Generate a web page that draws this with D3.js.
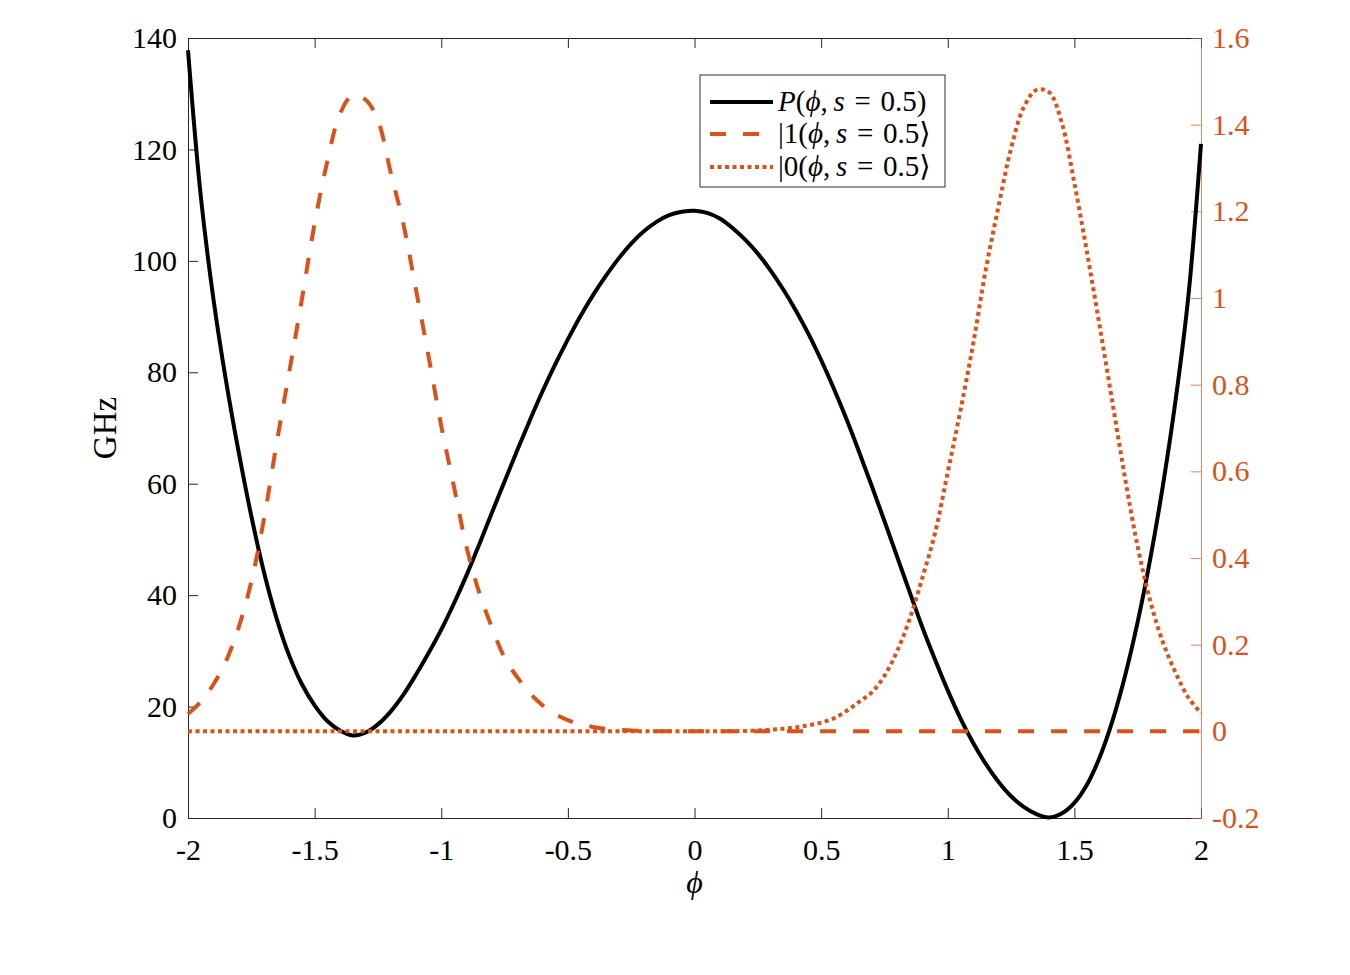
<!DOCTYPE html>
<html>
<head>
<meta charset="utf-8">
<script src="https://cdnjs.cloudflare.com/ajax/libs/d3/7.8.5/d3.min.js"></script>
<style>
  body { margin: 0; background: #fff; }
  svg text { font-family: "Liberation Serif", "DejaVu Serif", serif; }
</style>
</head>
<body>
<svg class="plot" width="1350" height="975"></svg>
<script>
// phi grid, step 0.05
var phiVals = [-2.00,-1.95,-1.90,-1.85,-1.80,-1.75,-1.70,-1.65,-1.60,-1.55,
  -1.50,-1.45,-1.40,-1.35,-1.30,-1.25,-1.20,-1.15,-1.10,-1.05,
  -1.00,-0.95,-0.90,-0.85,-0.80,-0.75,-0.70,-0.65,-0.60,-0.55,
  -0.50,-0.45,-0.40,-0.35,-0.30,-0.25,-0.20,-0.15,-0.10,-0.05,
  0.00,0.05,0.10,0.15,0.20,0.25,0.30,0.35,0.40,0.45,
  0.50,0.55,0.60,0.65,0.70,0.75,0.80,0.85,0.90,0.95,
  1.00,1.05,1.10,1.15,1.20,1.25,1.30,1.35,1.40,1.45,
  1.50,1.55,1.60,1.65,1.70,1.75,1.80,1.85,1.90,1.95,2.00];

// P(phi, s=0.5) in GHz (left axis)
var potVals = [137.8,111.8,93.3,78.5,65.7,54.2,44.1,35.8,29.1,24.0,
  20.2,17.4,15.7,14.8,15.3,16.8,19.1,22.1,25.7,29.6,
  33.8,38.5,43.6,49.1,54.8,60.4,66.0,71.4,76.6,81.4,
  85.9,90.1,93.9,97.3,100.4,103.1,105.3,107.0,108.2,108.8,
  109.0,108.6,107.6,105.9,103.8,101.3,98.3,94.9,91.1,86.9,
  82.2,77.1,71.6,65.7,59.6,53.3,46.9,40.5,34.2,28.4,
  22.9,17.9,13.5,9.7,6.5,3.9,2.0,0.7,0.1,0.8,
  2.7,6.0,10.9,17.4,25.5,35.2,46.6,59.8,75.1,93.6,121.0];

// |1(phi, s=0.5)> (right axis)
var ket1Vals = [0.040,0.068,0.108,0.162,0.240,0.345,0.490,0.665,0.830,0.998,
  1.172,1.315,1.425,1.468,1.458,1.410,1.290,1.172,1.020,0.865,
  0.705,0.565,0.425,0.320,0.240,0.170,0.125,0.088,0.060,0.040,
  0.026,0.016,0.010,0.006,0.004,0.002,0.001,0,0,0,
  0,0,0,0,0,0,0,0,0,0,
  0,0,0,0,0,0,0,0,0,0,
  0,0,0,0,0,0,0,0,0,0,
  0,0,0,0,0,0,0,0,0,0,0];

// |0(phi, s=0.5)> (right axis)
var ket0Vals = [0,0,0,0,0,0,0,0,0,0,
  0,0,0,0,0,0,0,0,0,0,
  0,0,0,0,0,0,0,0,0,0,
  0,0,0,0,0,0,0,0,0,0,
  0,0,0,0,0.001,0.002,0.004,0.006,0.009,0.014,
  0.020,0.030,0.047,0.068,0.090,0.128,0.185,0.260,0.355,0.458,
  0.598,0.740,0.893,1.065,1.210,1.345,1.440,1.480,1.475,1.405,
  1.265,1.105,0.935,0.760,0.585,0.426,0.300,0.205,0.135,0.078,0.042];

var xTicks = [-2,-1.5,-1,-0.5,0,0.5,1,1.5,2];
var yLeftTicks = [0,20,40,60,80,100,120,140];
var yRightTicks = [-0.2,0,0.2,0.4,0.6,0.8,1,1.2,1.4,1.6];

var orange = "#D95319";
var axisCol = "#262626";

var margin = {top: 38, right: 149, bottom: 157, left: 188},
    width = 1350 - margin.left - margin.right,
    height = 975 - margin.top - margin.bottom;

var svg = d3.select(".plot");
var g = svg.append("g")
    .attr("transform", "translate(" + margin.left + "," + margin.top + ")");

var x = d3.scaleLinear().domain([-2, 2]).range([0, width]);
var yL = d3.scaleLinear().domain([0, 140]).range([height, 0]);
var yR = d3.scaleLinear().domain([-0.2, 1.6]).range([height, 0]);

// axes
var fmt = function(d){ return String(d); };

g.append("g")
    .attr("class", "axis-bottom")
    .attr("transform", "translate(0," + height + ")")
    .call(d3.axisBottom(x).tickValues(xTicks).tickFormat(fmt).tickSizeInner(-10).tickSizeOuter(0).tickPadding(20));

g.append("g")
    .attr("class", "axis-top")
    .call(d3.axisTop(x).tickValues(xTicks).tickFormat("").tickSizeInner(-10).tickSizeOuter(0));

g.append("g")
    .attr("class", "axis-left")
    .call(d3.axisLeft(yL).tickValues(yLeftTicks).tickFormat(fmt).tickSizeInner(-10).tickSizeOuter(0).tickPadding(11));

g.append("g")
    .attr("class", "axis-right")
    .attr("transform", "translate(" + width + ",0)")
    .call(d3.axisRight(yR).tickValues(yRightTicks).tickFormat(fmt).tickSizeInner(-10).tickSizeOuter(0).tickPadding(11));

g.selectAll(".axis-bottom, .axis-top, .axis-left").selectAll("path, line")
    .attr("stroke", axisCol).attr("stroke-width", 1);
g.selectAll(".axis-right").selectAll("path, line")
    .attr("stroke", orange).attr("stroke-width", 1).attr("stroke-opacity", 0.7);

g.selectAll(".axis-bottom, .axis-left").selectAll("text")
    .attr("fill", "#000").style("font-size", "30px");
g.selectAll(".axis-bottom text").attr("y", 20).attr("dy", "0.72em");
g.selectAll(".axis-right text")
    .attr("fill", orange).style("font-size", "30px");

// axis titles
svg.append("text")
    .attr("transform", "translate(116," + (margin.top + height / 2) + ") rotate(-90)")
    .attr("text-anchor", "middle")
    .style("font-size", "33px")
    .attr("fill", "#000")
    .text("GHz");

svg.append("text")
    .attr("x", margin.left + width / 2)
    .attr("y", 893)
    .attr("text-anchor", "middle")
    .style("font-size", "32px")
    .style("font-style", "italic")
    .attr("fill", "#000")
    .text("\u03D5");

// curves
var rows = phiVals.map(function(p, i){
  return {phi: p, pot: potVals[i], k1: ket1Vals[i], k0: ket0Vals[i]};
});

var linePot = d3.line().x(function(d){ return x(d.phi); }).y(function(d){ return yL(d.pot); })
    .curve(d3.curveCatmullRom.alpha(0.5));
var lineK1 = d3.line().x(function(d){ return x(d.phi); }).y(function(d){ return yR(d.k1); })
    .curve(d3.curveCatmullRom.alpha(0.5));
var lineK0 = d3.line().x(function(d){ return x(d.phi); }).y(function(d){ return yR(d.k0); })
    .curve(d3.curveCatmullRom.alpha(0.5));

g.append("path").datum(rows)
    .attr("d", linePot)
    .attr("fill", "none").attr("stroke", "#000").attr("stroke-width", 4);

g.append("path").datum(rows)
    .attr("d", lineK1)
    .attr("fill", "none").attr("stroke", orange).attr("stroke-width", 4)
    .attr("stroke-dasharray", "16,17");

g.append("path").datum(rows)
    .attr("d", lineK0)
    .attr("fill", "none").attr("stroke", orange).attr("stroke-width", 4)
    .attr("stroke-dasharray", "4,3.5");

// legend
var lg = svg.append("g").attr("transform", "translate(700,75)");
lg.append("rect")
    .attr("width", 245).attr("height", 112)
    .attr("fill", "#fff").attr("stroke", "#333").attr("stroke-width", 1);

var legendItems = [
  {stroke: "#000", dash: null, pre: "", y: 27},
  {stroke: orange, dash: "16,17", pre: "|1", y: 59},
  {stroke: orange, dash: "4,3.5", pre: "|0", y: 92}
];

legendItems.forEach(function(it, i){
  lg.append("line")
      .attr("x1", 10).attr("x2", 73)
      .attr("y1", it.y).attr("y2", it.y)
      .attr("stroke", it.stroke).attr("stroke-width", 4)
      .attr("stroke-dasharray", it.dash);
  var t = lg.append("text")
      .attr("x", 78).attr("y", it.y + 9)
      .style("font-size", "29px").attr("fill", "#000");
  if (i == 0) {
    t.append("tspan").style("font-style", "italic").text("P");
  } else {
    t.append("tspan").text(it.pre);
  }
  t.append("tspan").text("(");
  t.append("tspan").style("font-style", "italic").text("\u03D5");
  t.append("tspan").text(",\u2009");
  t.append("tspan").style("font-style", "italic").text("s");
  t.append("tspan").text("\u2004=\u20040.5");
  t.append("tspan").text(i == 0 ? ")" : "\u27E9");
});
</script>
</body>
</html>
